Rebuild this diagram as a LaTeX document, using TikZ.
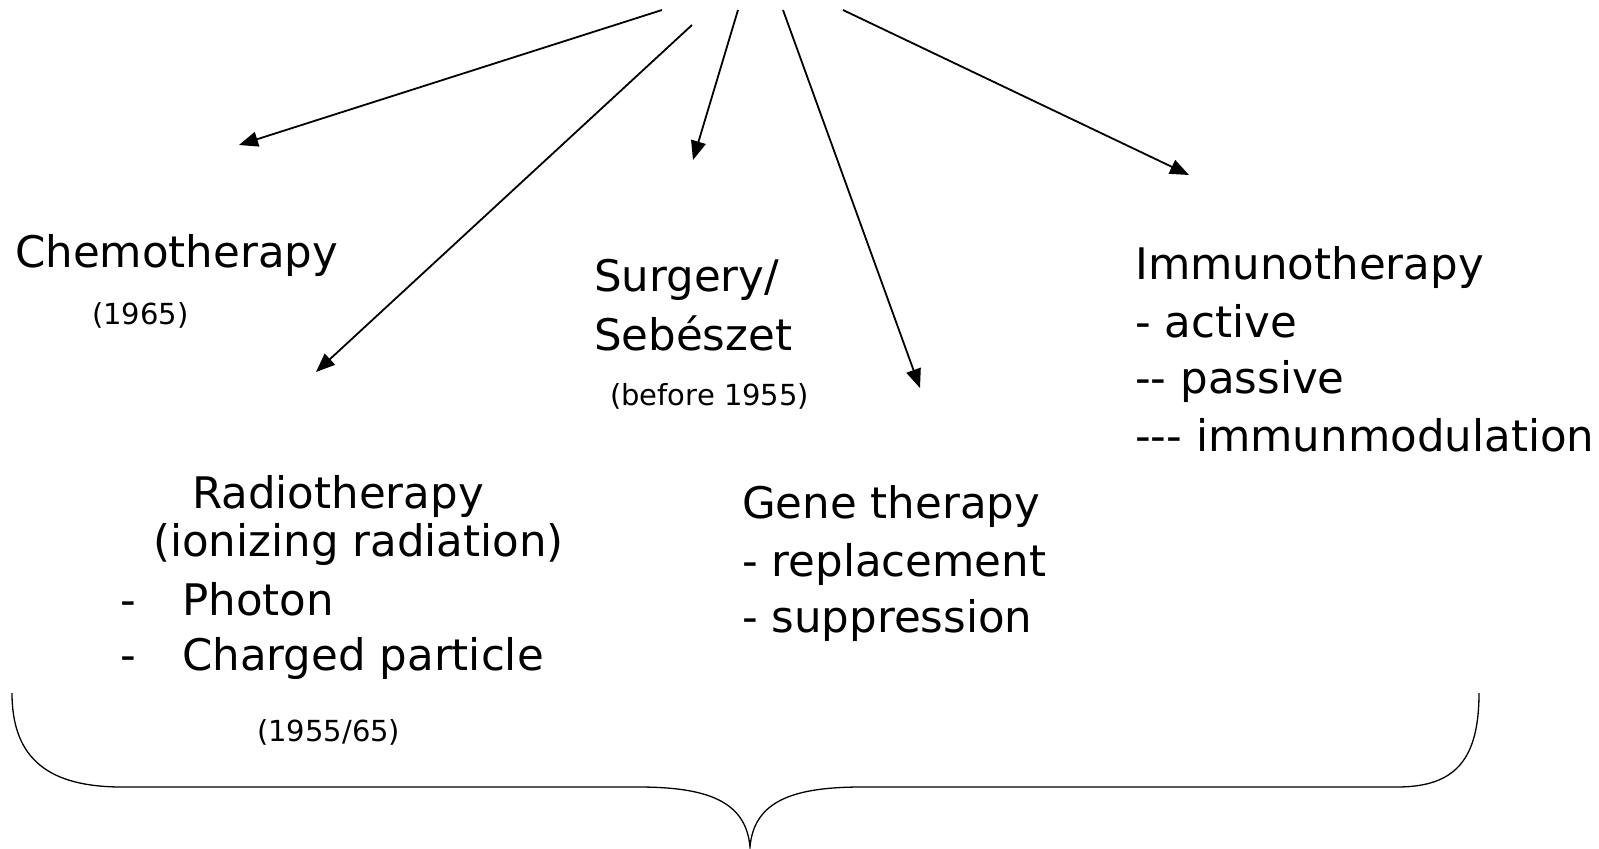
\documentclass[tikz,border=0pt]{standalone}
\usepackage{fontspec}
\setmainfont{DejaVu Sans}
\usetikzlibrary{arrows.meta}
\tikzset{
  big/.style={font=\fontsize{43.5}{50}\selectfont, inner sep=0pt, anchor=base west},
  small/.style={font=\fontsize{29}{34}\selectfont, inner sep=0pt, anchor=base west},
  arr/.style={line width=1.8pt, -{Triangle[length=19pt,width=15pt]}},
  brace/.style={line width=1.3pt}
}
\begin{document}
\begin{tikzpicture}[x=1pt,y=-1pt]
\useasboundingbox (0,0) rectangle (1599,849);
% arrow start and end points
\coordinate (s1) at (662,10);  \coordinate (e1) at (239,145);
\coordinate (s2) at (692,25);  \coordinate (e2) at (316,372);
\coordinate (s3) at (738,10);  \coordinate (e3) at (693,160);
\coordinate (s4) at (783,10);  \coordinate (e4) at (920,388);
\coordinate (s5) at (843,10);  \coordinate (e5) at (1189,175);
\draw[arr] (s1) -- (e1);
\draw[arr] (s2) -- (e2);
\draw[arr] (s3) -- (e3);
\draw[arr] (s4) -- (e4);
\draw[arr] (s5) -- (e5);
% texts
\node[big] (chemo) at (15,267) {Chemotherapy};
\node[small] (chemoy) at (92,324) {(1965)};
\node[big] (surg1) at (594,291) {Surgery/};
\node[big] (surg2) at (594,350) {Sebészet};
\node[small] (surgy) at (610,405) {(before 1955)};
\node[big] (imm1) at (1135,279) {Immunotherapy};
\node[big] (imm2) at (1135,337) {- active};
\node[big] (imm3) at (1135,393) {-\kern0pt- passive};
\node[big] (imm4) at (1135,451) {-\kern0pt-\kern0pt- immunmodulation};
\node[big] (rad1) at (192,508) {Radiotherapy};
\node[big] (rad2) at (153,556) {(ionizing radiation)};
\node[big] (rad3d) at (120,615) {-};
\node[big] (rad3) at (182,615) {Photon};
\node[big] (rad4d) at (120,670) {-};
\node[big] (rad4) at (182,670) {Charged particle};
\node[small] (rady) at (257,741) {(1955/65)};
\node[big] (gene1) at (742,518) {Gene therapy};
\node[big] (gene2) at (742,576) {- replacement};
\node[big] (gene3) at (742,632) {- suppression};
% brace
\coordinate (bl) at (12,693);
\coordinate (br) at (1479,693);
\coordinate (tip) at (750,847);
\draw[brace] (bl) .. controls (12,760) and (50,787) .. (122,787) -- (638,787)
  .. controls (705,787) and (746,800) .. (tip)
  .. controls (754,800) and (795,787) .. (862,787) -- (1397,787)
  .. controls (1455,787) and (1479,760) .. (br);
\end{tikzpicture}
\end{document}
